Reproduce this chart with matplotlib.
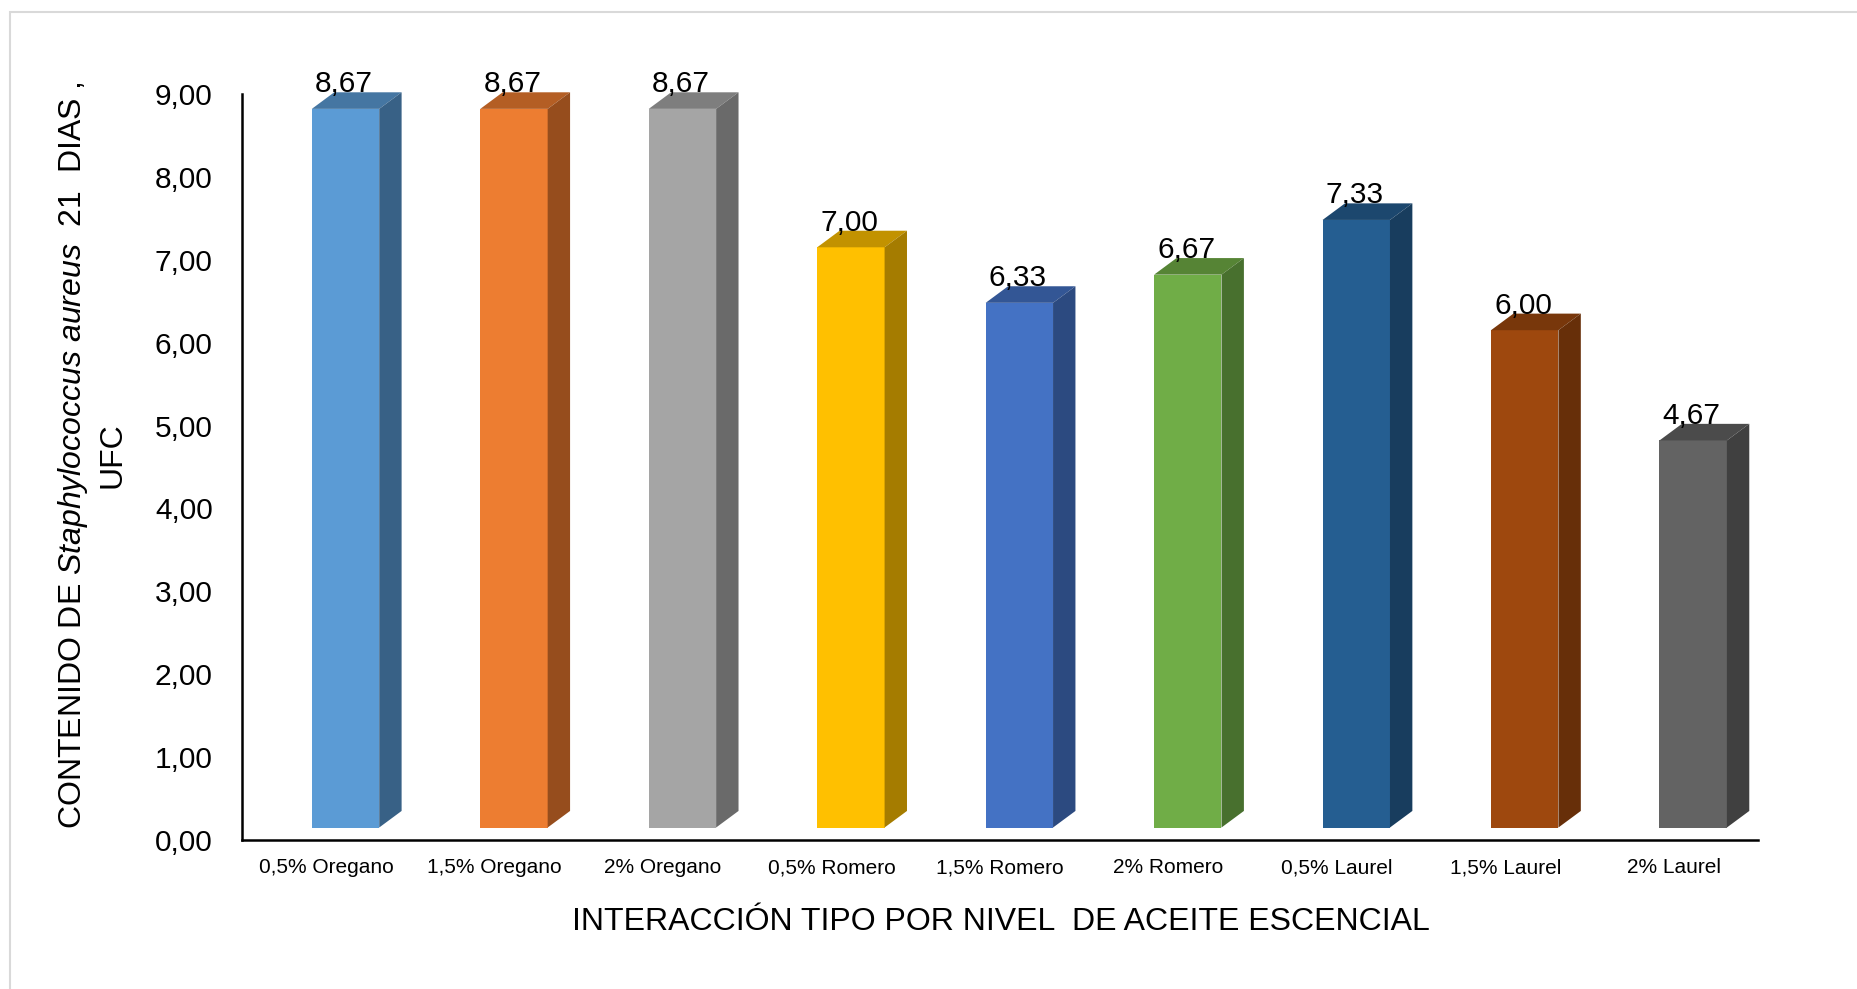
import numpy as np
import matplotlib.pyplot as plt
from matplotlib.patches import Polygon, Rectangle

plt.rcParams['font.family'] = ['Liberation Sans', 'DejaVu Sans']
plt.rcParams['mathtext.fontset'] = 'custom'
plt.rcParams['mathtext.rm'] = 'Liberation Sans'
plt.rcParams['mathtext.it'] = 'Liberation Sans:italic'

categories = ['0,5% Oregano', '1,5% Oregano', '2% Oregano',
              '0,5% Romero', '1,5% Romero', '2% Romero',
              '0,5% Laurel', '1,5% Laurel', '2% Laurel']
values = [8.67, 8.67, 8.67, 7.00, 6.33, 6.67, 7.33, 6.00, 4.67]

front_colors = ['#5B9BD5', '#ED7D31', '#A5A5A5', '#FFC000', '#4472C4',
                '#70AD47', '#255E91', '#9E480E', '#636363']
top_colors = ['#4576A2', '#B45E24', '#7E7E7E', '#C29200', '#335695',
              '#568435', '#1C476E', '#78370B', '#4B4B4B']
side_colors = ['#386186', '#964D1D', '#6A6A6A', '#A57C00', '#2C4A80',
               '#48702E', '#183D5E', '#672F09', '#404040']

# fake 3D columns: raised floor, depth offsets in data units
floor = 0.15
dx, dy = 0.133, 0.2
bar_w = 0.4
shift = 0.115

fig = plt.figure(figsize=(18.58, 9.89), dpi=100)
ax = fig.add_axes([0.1302, 0.1507, 0.816, 0.7543])

x = np.arange(len(categories))
ax.bar(x + shift, values, width=bar_w, bottom=floor, color=front_colors,
       linewidth=0, zorder=3)

for xi, v, ct, cs in zip(x, values, top_colors, side_colors):
    x0 = xi + shift - bar_w / 2
    x1 = xi + shift + bar_w / 2
    top = v + floor
    ax.add_patch(Polygon([(x0, top), (x1, top), (x1 + dx, top + dy), (x0 + dx, top + dy)],
                         closed=True, facecolor=ct, edgecolor='none', zorder=3, clip_on=False))
    ax.add_patch(Polygon([(x1, floor), (x1 + dx, floor + dy), (x1 + dx, top + dy), (x1, top)],
                         closed=True, facecolor=cs, edgecolor='none', zorder=3, clip_on=False))
    ax.text(xi + shift - 0.01, top + dy, f'{v:.2f}'.replace('.', ','), ha='center',
            va='baseline', fontsize=21.5, zorder=4, clip_on=False)

ax.set_xlim(-0.5, 8.5)
ax.set_ylim(0, 9)
yt = np.arange(0, 10)
ax.set_yticks(yt)
ax.set_yticklabels([f'{t:.2f}'.replace('.', ',') for t in yt], fontsize=21.5)
ax.set_xticks(x)
ax.set_xticklabels(categories, fontsize=15)
ax.tick_params(axis='y', length=0, pad=21)
ax.tick_params(axis='x', length=0, pad=13)

for s in ['top', 'right']:
    ax.spines[s].set_visible(False)
for s in ['left', 'bottom']:
    ax.spines[s].set_linewidth(1.8)
    ax.spines[s].set_color('black')

fig.text(0.5385, 1 - 922 / 989, 'INTERACCIÓN TIPO POR NIVEL  DE ACEITE ESCENCIAL',
         ha='center', va='center', fontsize=23)

fig.text(73 / 1858, 1 - 455 / 989,
         r'CONTENIDO DE $\mathit{Staphylococcus\ aureus\ \ 21}$  DIAS ,',
         rotation=90, ha='center', va='center', fontsize=23)
fig.text(113 / 1858, 1 - 455 / 989, 'UFC', rotation=90, ha='center',
         va='center', fontsize=23)

# thin grey frame round the chart area
fig.patches.append(Rectangle((10 / 1858, -0.05), 1.05, 1.05 - 12 / 989,
                             transform=fig.transFigure, fill=False,
                             edgecolor='#D9D9D9', linewidth=1.5))

fig.savefig('out.png', dpi=100)
